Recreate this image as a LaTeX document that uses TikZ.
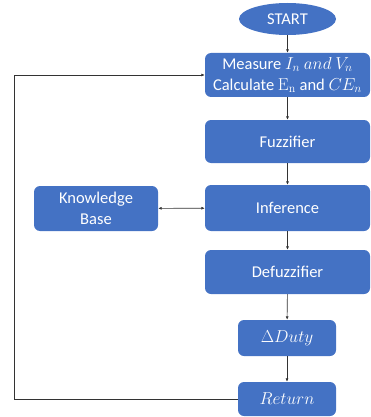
\documentclass[tikz,border=0pt]{standalone}
\usepackage{amsmath}
\usepackage[no-math]{fontspec}
\setmainfont{Carlito}
\usetikzlibrary{arrows,arrows.meta,shapes,calc}
\definecolor{OBlue}{HTML}{4472C4}
\tikzset{
    block/.style = {fill=OBlue, rectangle, rounded corners=6pt,
        text=white, align=center, inner sep=0pt,
        font=\fontsize{16.5}{21}\selectfont,
        minimum height=44pt,
        minimum width=165pt},
    small/.style = {block, minimum width=98pt, minimum height=35pt},
    term/.style = {fill=OBlue, ellipse, text=white, inner sep=0pt,
        font=\fontsize{16.5}{21}\selectfont,
        minimum width=97pt, minimum height=32pt},
    arrow/.style={draw, black!80, line width=0.6pt, -{Latex[length=3.5pt,width=3pt]}},
    both/.style={draw, black!80, line width=0.6pt, {Latex[length=3.5pt,width=3pt]}-{Latex[length=3.5pt,width=3pt]}}
}

\begin{document}
\begin{tikzpicture}[x=1pt,y=-1pt]
            \useasboundingbox (0,0) rectangle (371,417);
            \node[term] (start) at (287.5,19) {START};
            \node[block] (meas) at (287.5,75) {Measure $I_n\ and\ V_n$\\Calculate $\mathrm{E_n}$ and $CE_n$};
            \node[block, minimum height=43pt] (fuzz) at (287.5,141.5) {Fuzzifier};
            \node[block, minimum height=46pt] (inf) at (287.5,208) {Inference};
            \node[block, minimum width=124pt, minimum height=45pt] (kb) at (96,208.5) {Knowledge\\Base};
            \node[block] (defuzz) at (287.5,272) {Defuzzifier};
            \node[small, minimum height=36pt] (duty) at (287,338) {$\Delta Duty$};
            \node[small, minimum height=34pt] (ret) at (287,399) {$Return$};
            \coordinate (loop) at (14,0);
            \draw[arrow] (start) -- (meas);
            \draw[arrow] (meas) -- (fuzz);
            \draw[arrow] (fuzz) -- (inf);
            \draw[arrow] (inf) -- (defuzz);
            \draw[arrow] (defuzz) -- (duty);
            \draw[arrow] (duty) -- (ret);
            \draw[both] (kb) -- (inf);
            \draw[arrow] (ret.west) -| (loop |- meas.west) -- (meas.west);
\end{tikzpicture}
\end{document}
